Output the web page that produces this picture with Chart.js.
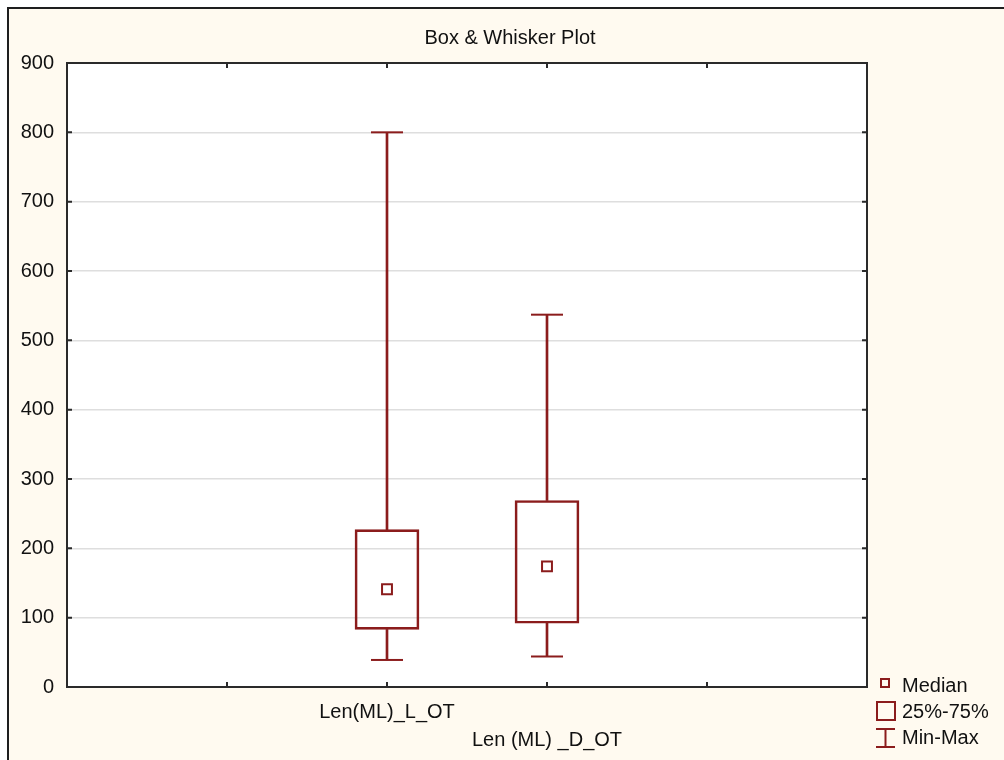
<!DOCTYPE html>
<html>
<head>
<meta charset="utf-8">
<title>Box & Whisker Plot</title>
<script src="https://cdn.jsdelivr.net/npm/chart.js@4.4.1/dist/chart.umd.min.js"></script>
<style>
  html, body { margin: 0; padding: 0; background: #ffffff; }
  #frame {
    position: absolute; left: 7px; top: 7px; width: 1000px; height: 760px;
    background: #fffaf0; border-left: 2px solid #1e1e1e; border-top: 2px solid #1e1e1e;
  }
  #boxChart { position: absolute; left: 0; top: 0; }
</style>
</head>
<body>
<div id="frame"></div>
<canvas id="boxChart" width="1004" height="760" style="width:1004px;height:760px"></canvas>
<script>
// values
const categories = ["Len(ML)_L_OT", "Len (ML) _D_OT"]
const mins = [39, 44]
const q1s = [83, 92]
const medians = [141, 174]
const q3s = [227, 269]
const maxs = [800, 537]
const slots = ["", "", categories[0], categories[1], "", ""]
const legendLabels = ["Median", "25%-75%", "Min-Max"]
const chartTitle = "Box & Whisker Plot"

const RED = "#8b1c1c"
const FONT = "'Liberation Sans', Arial, sans-serif"

// spread the per-category values over the slot positions
function toSlots(values) {
  return slots.map(s => {
    const i = categories.indexOf(s)
    return s !== "" && i >= 0 ? values[i] : null
  })
}
function pairs(lo, hi) {
  return slots.map(s => {
    const i = categories.indexOf(s)
    return s !== "" && i >= 0 ? [lo[i], hi[i]] : null
  })
}

// frame, inward ticks, title and legend
const decorations = {
  id: "decorations",
  beforeDraw(chart) {
    const { ctx, chartArea: a } = chart
    ctx.save()
    ctx.fillStyle = "#ffffff"
    ctx.fillRect(a.left, a.top, a.right - a.left, a.bottom - a.top)
    ctx.restore()
  },
  afterDatasetsDraw(chart) {
    const { ctx, chartArea: a, scales } = chart
    ctx.save()
    ctx.strokeStyle = "#2a2a2a"
    ctx.lineWidth = 2
    ctx.strokeRect(a.left, a.top, a.right - a.left, a.bottom - a.top)
    ctx.beginPath()
    scales.x.ticks.forEach((t, i) => {
      if (i === 0 || i === scales.x.ticks.length - 1) return
      const px = scales.x.getPixelForTick(i)
      ctx.moveTo(px, a.bottom); ctx.lineTo(px, a.bottom - 5)
      ctx.moveTo(px, a.top); ctx.lineTo(px, a.top + 5)
    })
    scales.y.ticks.forEach((t, i) => {
      if (i === 0 || i === scales.y.ticks.length - 1) return
      const py = scales.y.getPixelForTick(i)
      ctx.moveTo(a.left, py); ctx.lineTo(a.left + 5, py)
      ctx.moveTo(a.right, py); ctx.lineTo(a.right - 5, py)
    })
    ctx.stroke()

    // title
    ctx.fillStyle = "#111111"
    ctx.font = "20px " + FONT
    ctx.textAlign = "center"
    ctx.textBaseline = "middle"
    ctx.fillText(chartTitle, 510, 38)

    // legend
    ctx.strokeStyle = RED
    ctx.lineWidth = 2
    ctx.strokeRect(881, 679, 8, 8)
    ctx.strokeRect(877, 702, 18, 18)
    ctx.beginPath()
    ctx.moveTo(876, 729); ctx.lineTo(895, 729)
    ctx.moveTo(885.5, 729); ctx.lineTo(885.5, 747)
    ctx.moveTo(876, 747); ctx.lineTo(895, 747)
    ctx.stroke()
    ctx.fillStyle = "#111111"
    ctx.textAlign = "left"
    ctx.fillText(legendLabels[0], 902, 686)
    ctx.fillText(legendLabels[1], 902, 712)
    ctx.fillText(legendLabels[2], 902, 738)
    ctx.restore()
  },
}

const data = {
  labels: slots,
  datasets: [
    {
      label: "whisker low",
      data: pairs(mins, q1s),
      backgroundColor: RED,
      borderWidth: 0,
      barThickness: 2,
      grouped: false,
      order: 3,
    },
    {
      label: "whisker high",
      data: pairs(q3s, maxs),
      backgroundColor: RED,
      borderWidth: 0,
      barThickness: 2,
      grouped: false,
      order: 3,
    },
    {
      label: "25%-75%",
      data: pairs(q1s, q3s),
      backgroundColor: "rgba(255,255,255,0)",
      borderColor: RED,
      borderWidth: 2,
      borderSkipped: false,
      barThickness: 64,
      grouped: false,
      order: 2,
    },
    {
      type: "line",
      label: "Min",
      data: toSlots(mins),
      showLine: false,
      pointStyle: "line",
      pointRadius: 16,
      pointBorderWidth: 2,
      pointBorderColor: RED,
      order: 1,
    },
    {
      type: "line",
      label: "Max",
      data: toSlots(maxs),
      showLine: false,
      pointStyle: "line",
      pointRadius: 16,
      pointBorderWidth: 2,
      pointBorderColor: RED,
      order: 1,
    },
    {
      type: "line",
      label: "Median",
      data: toSlots(medians),
      showLine: false,
      pointStyle: "rect",
      pointRadius: 7,
      pointBorderWidth: 2,
      pointBorderColor: RED,
      pointBackgroundColor: "#ffffff",
      order: 0,
    },
  ],
}

const config = {
  type: "bar",
  data: data,
  plugins: [decorations],
  options: {
    responsive: false,
    animation: false,
    events: [],
    layout: { padding: { top: 63, right: 137, left: 0, bottom: 0 } },
    plugins: {
      legend: { display: false },
      title: { display: false },
      tooltip: { enabled: false },
    },
    scales: {
      x: {
        type: "category",
        offset: false,
        grid: { display: false, offset: false },
        border: { display: false },
        afterFit(scale) { scale.height = 73 },
        ticks: {
          autoSkip: false,
          maxRotation: 0,
          padding: 3,
          color: "#111111",
          font: { family: FONT, size: 20, lineHeight: 1.4 },
          callback(value) {
            const label = this.getLabelForValue(value)
            const i = categories.indexOf(label)
            if (label === "") return ""
            return i % 2 === 1 ? ["", label] : label
          },
        },
      },
      y: {
        min: 0,
        max: 900,
        afterFit(scale) { scale.width = 67 },
        border: { display: false },
        grid: {
          drawTicks: false,
          lineWidth: 1.5,
          color: ctx => (ctx.tick.value === 0 || ctx.tick.value === 900 ? "rgba(0,0,0,0)" : "#dedede"),
        },
        ticks: {
          stepSize: 100,
          padding: 13,
          color: "#111111",
          font: { family: FONT, size: 20 },
        },
      },
    },
  },
}

new Chart(document.getElementById("boxChart"), config)
</script>
</body>
</html>
